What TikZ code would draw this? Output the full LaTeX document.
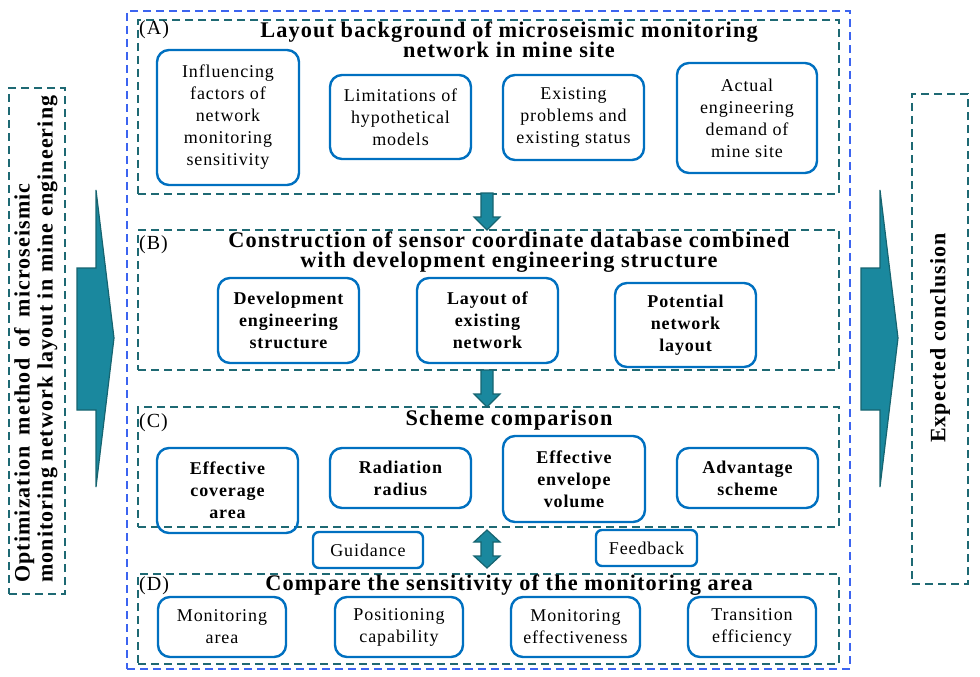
\documentclass[tikz,border=0pt]{standalone}
\usepackage{fontspec}
\setmainfont{Liberation Serif}
\newfontfamily\spaced[LetterSpace=5]{Liberation Serif}
\definecolor{outerblue}{RGB}{60,100,240}
\definecolor{secteal}{RGB}{30,105,115}
\definecolor{nodeblue}{RGB}{0,112,192}
\definecolor{arrfill}{RGB}{26,136,158}
\definecolor{arrdraw}{RGB}{22,100,112}
\tikzset{
  outerbox/.style={draw=outerblue,line width=2pt,dash pattern=on 8pt off 5pt},
  secbox/.style={draw=secteal,line width=2pt,dash pattern=on 8pt off 5pt,anchor=north west,inner sep=0pt},
  nbox/.style={draw=nodeblue,line width=2.4pt,rounded corners=12pt,align=center,inner sep=0pt,
    font=\spaced\fontsize{18}{22}\selectfont},
  bnbox/.style={nbox,font=\spaced\fontsize{18}{22}\selectfont\bfseries},
  ttl/.style={font=\spaced\fontsize{22.3}{20.5}\selectfont\bfseries,align=center},
  lbl/.style={font=\spaced\fontsize{20}{20}\selectfont,anchor=west,inner sep=0pt},
  blk/.style={fill=arrfill,draw=arrdraw,line width=1.2pt,line join=miter},
}
\begin{document}
\begin{tikzpicture}[x=1pt,y=-1pt]
\useasboundingbox (0,0) rectangle (980,677);
% outer box
\node[outerbox,minimum width=723pt,minimum height=658pt,anchor=north west,inner sep=0pt] (outer) at (126,10) {};
% side boxes
\node[secbox,minimum width=56pt,minimum height=506pt] (left) at (8,87) {};
\node[rotate=90,font=\spaced\fontsize{22}{23}\selectfont\bfseries,align=left,anchor=north west,inner sep=0pt] (lefttxt) at (14,583) {Optimization\hspace{0.2em} method\hspace{0.2em} of\hspace{0.2em} microseismic\\monitoring network layout in mine engineering};
\node[secbox,minimum width=56pt,minimum height=490pt] (right) at (911,93) {};
\node[rotate=90,font=\spaced\fontsize{22}{23}\selectfont\bfseries] (righttxt) at (940,338) {Expected conclusion};
% big arrows
\draw[blk] (77,268) -- (96,268) -- (96,190) -- (114,338) -- (96,487) -- (96,410) -- (77,410) -- cycle;
\draw[blk] (861,268) -- (880,268) -- (880,190) -- (898,338) -- (880,487) -- (880,410) -- (861,410) -- cycle;
% section boxes
\node[secbox,minimum width=701pt,minimum height=174pt] (A) at (137,19) {};
\node[secbox,minimum width=701pt,minimum height=140pt] (B) at (137,229) {};
\node[secbox,minimum width=701pt,minimum height=120pt] (C) at (137,406) {};
\node[secbox,minimum width=701pt,minimum height=90pt] (D) at (137,573) {};
% labels
\node[lbl] (la) at (139,30) {(A)};
\node[lbl] (lb) at (139,245) {(B)};
\node[lbl] (lc) at (139,423) {(C)};
\node[lbl] (ld) at (139,586) {(D)};
% titles
\node[ttl] (ta) at (509,40) {Layout background of microseismic monitoring\\network in mine site};
\node[ttl] (tb) at (509,252) {Construction of sensor coordinate database combined\\with development engineering structure};
\node[ttl] (tc) at (509,420) {Scheme comparison};
\node[ttl] (td) at (509,585) {Compare the sensitivity of the monitoring area};
% A nodes
\node[nbox,minimum width=142pt,minimum height=135pt] (a1) at (228,117.5) {Influencing\\factors of\\network\\monitoring\\sensitivity};
\node[nbox,minimum width=141pt,minimum height=84pt] (a2) at (400.5,117) {Limitations of\\hypothetical\\models};
\node[nbox,minimum width=141pt,minimum height=85pt] (a3) at (573.5,117.5) {Existing\\problems and\\existing status};
\node[nbox,minimum width=140pt,minimum height=110pt] (a4) at (747,118) {Actual\\engineering\\demand of\\mine site};
% B nodes
\node[bnbox,minimum width=141pt,minimum height=85pt] (b1) at (288.5,320.5) {Development\\engineering\\structure};
\node[bnbox,minimum width=141pt,minimum height=85pt] (b2) at (487.5,320.5) {Layout of\\existing\\network};
\node[bnbox,minimum width=141pt,minimum height=84pt] (b3) at (685.5,325) {Potential\\network\\layout};
% C nodes
\node[bnbox,minimum width=141pt,minimum height=85pt] (c1) at (227.5,490.5) {Effective\\coverage\\area};
\node[bnbox,minimum width=141pt,minimum height=60pt] (c2) at (400.5,478) {Radiation\\radius};
\node[bnbox,minimum width=142pt,minimum height=86pt] (c3) at (574,479) {Effective\\envelope\\volume};
\node[bnbox,minimum width=141pt,minimum height=60pt] (c4) at (747.5,478) {Advantage\\scheme};
% D nodes
\node[nbox,minimum width=128pt,minimum height=60pt] (d1) at (222,627) {Monitoring\\area};
\node[nbox,minimum width=128pt,minimum height=60pt] (d2) at (399,627) {Positioning\\capability};
\node[nbox,minimum width=129pt,minimum height=60pt] (d3) at (575.5,627) {Monitoring\\effectiveness};
\node[nbox,minimum width=128pt,minimum height=60pt] (d4) at (752,627) {Transition\\efficiency};
% guidance / feedback
\node[nbox,minimum width=110pt,minimum height=36pt,rounded corners=6pt] (g) at (368,550) {Guidance};
\node[nbox,minimum width=101pt,minimum height=36pt,rounded corners=6pt] (f) at (646.5,548) {Feedback};
% small arrows
\draw[blk] (481,193) -- (493,193) -- (493,217) -- (500,217) -- (487,230) -- (474,217) -- (481,217) -- cycle;
\draw[blk] (481,370) -- (493,370) -- (493,394) -- (500,394) -- (487,407) -- (474,394) -- (481,394) -- cycle;
\draw[blk] (487,530) -- (500,542) -- (493,542) -- (493,556) -- (500,556) -- (487,568) -- (474,556) -- (481,556) -- (481,542) -- (474,542) -- cycle;
\end{tikzpicture}
\end{document}
